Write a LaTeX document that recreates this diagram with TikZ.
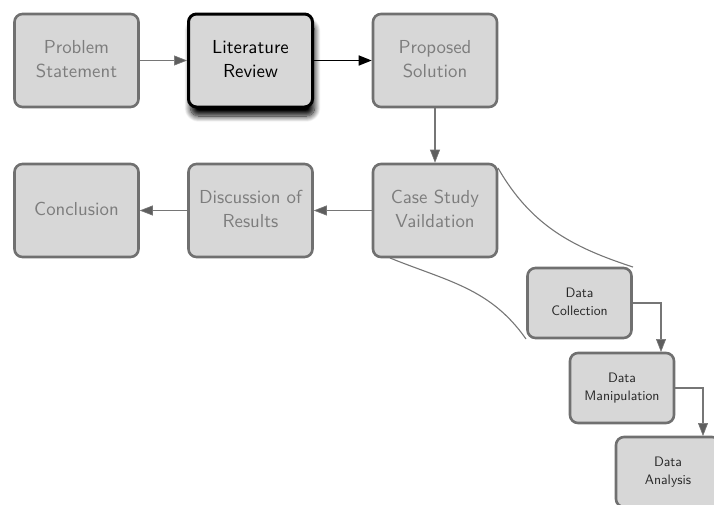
\documentclass[tikz,border=0pt]{standalone}
\usetikzlibrary{arrows.meta,shadows.blur}
\definecolor{boxfill}{RGB}{215,215,215}
\definecolor{boxline}{RGB}{112,112,112}
\definecolor{boxtext}{RGB}{125,125,125}
\definecolor{arrowline}{RGB}{118,118,118}
% two-line labels set at 10pt and enlarged as a whole
\newcommand\biglabel[1]{\scalebox{1.88}{\fontsize{10}{13}\selectfont\begin{tabular}{@{}c@{}}#1\end{tabular}}}
\newcommand\smalllabel[1]{\scalebox{1.37}{\fontsize{10}{13.5}\selectfont\begin{tabular}{@{}c@{}}#1\end{tabular}}}
\begin{document}
\begin{tikzpicture}[x=1pt,y=-1pt,
  font=\sffamily,
  stage/.style={draw=boxline, fill=boxfill, line width=2.6pt, rounded corners=8pt,
    minimum width=124pt, minimum height=93pt, align=center, text=boxtext, inner sep=0pt},
  current/.style={stage, draw=black, text=black, line width=3pt,
    blur shadow={shadow xshift=2pt, shadow yshift=-9pt, shadow blur radius=6pt,
      shadow blur steps=12, shadow opacity=100}},
  substage/.style={draw=boxline, fill=boxfill, line width=2.6pt, rounded corners=8pt,
    minimum width=104pt, minimum height=70pt, align=center, text=black!85, inner sep=0pt},
  flow/.style={draw=arrowline, line width=1.3pt,
    -{Triangle[length=13pt, width=10pt, fill=arrowline!80!black, line width=0.6pt]}},
  activeflow/.style={draw=black, line width=1.6pt,
    -{Triangle[length=13pt, width=10pt, fill=black]}},
  zoomline/.style={draw=arrowline, line width=1.1pt}
]
\useasboundingbox (0,0) rectangle (714,504);

% main research stages
\node[stage]   (ps)   at (76.5,60.5)  {\biglabel{Problem\\Statement}};
\node[current] (lr)   at (250.5,60.5) {\biglabel{Literature\\Review}};
\node[stage]   (sol)  at (435,60.5)   {\biglabel{Proposed\\Solution}};

% expansion lines of the case study, drawn behind the boxes
\coordinate (csne) at (498,168);
\coordinate (cssw) at (390,258);
\coordinate (dcne) at (633,267);
\coordinate (dcsw) at (526,339);
\draw[zoomline] (csne) to[out=-60, in=162] (dcne);
\draw[zoomline] (cssw) to[out=-22, in=125] (dcsw);

\node[stage]   (cs)   at (435,210.5)  {\biglabel{Case Study\\Vaildation}};
\node[stage]   (disc) at (250.5,210.5) {\biglabel{Discussion of\\Results}};
\node[stage]   (conc) at (76.5,210.5) {\biglabel{Conclusion}};

% case study sub-stages
\node[substage] (dc) at (579.5,303) {\smalllabel{Data\\Collection}};
\node[substage] (dm) at (622,388)   {\smalllabel{Data\\Manipulation}};
\node[substage] (da) at (668,472)   {\smalllabel{Data\\Analysis}};

% connectors
\draw[flow] (ps) -- (lr);
\draw[activeflow] (lr) -- (sol);
\draw[flow] (sol) -- (cs);
\draw[flow] (cs) -- (disc);
\draw[flow] (disc) -- (conc);

\coordinate (dmin) at (661,352);
\coordinate (dain) at (703,436);
\draw[flow] (dc.east) -| (dmin);
\draw[flow] (dm.east) -| (dain);
\end{tikzpicture}
\end{document}
